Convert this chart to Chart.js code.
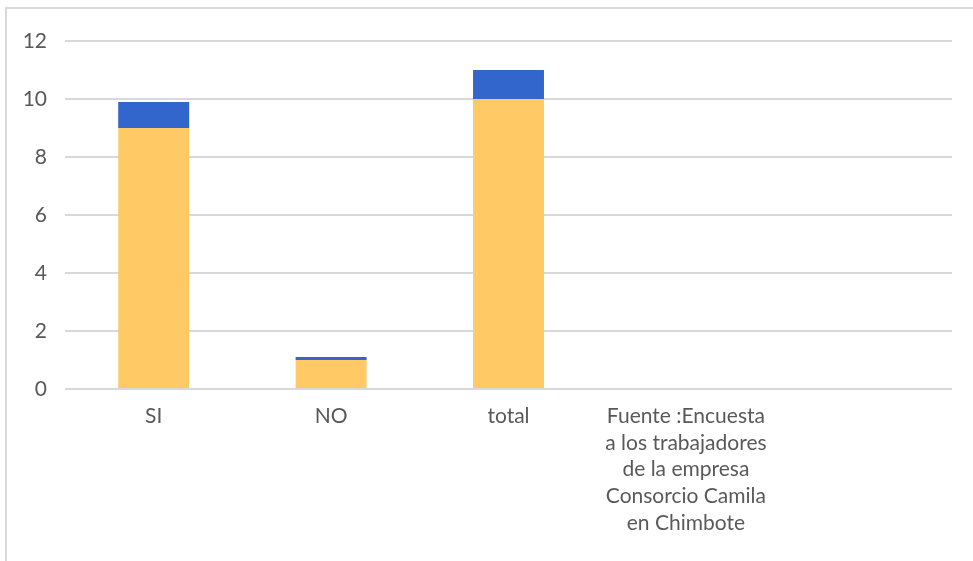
<!DOCTYPE html>
<html>
<head>
<meta charset="utf-8">
<script src="https://cdn.jsdelivr.net/npm/chart.js@4"></script>
<style>
  html, body { margin: 0; padding: 0; background: #ffffff; overflow: hidden; }
  #wrap { position: relative; width: 973px; height: 561px; }
</style>
</head>
<body>
<div id="wrap"><canvas id="chart" width="973" height="561"></canvas></div>
<script>
// Categories along the x axis (the fourth one carries the source note, the fifth is empty)
const categories = [
  'SI',
  'NO',
  'total',
  ['Fuente :Encuesta', 'a los trabajadores', 'de la empresa', 'Consorcio Camila', 'en Chimbote'],
  ''
];
// Lower (yellow) segment of each stacked bar
const seriesBase = [9, 1, 10, null, null];
// Upper (blue) segment of each stacked bar
const seriesTop = [0.9, 0.1, 1, null, null];
// Value axis ticks
const yTicks = [0, 2, 4, 6, 8, 10, 12];

const FONT = 'Lato, "Open Sans", sans-serif';
const GRID = '#d9d9d9';
const TEXT = '#595959';

// Light outer frame of the chart box
const framePlugin = {
  id: 'frame',
  beforeDraw(chart) {
    const ctx = chart.ctx;
    ctx.save();
    ctx.fillStyle = '#ffffff';
    ctx.fillRect(0, 0, chart.width, chart.height);
    ctx.strokeStyle = GRID;
    ctx.lineWidth = 2;
    ctx.strokeRect(6, 8, chart.width + 20, chart.height + 20);
    ctx.restore();
  }
};

new Chart(document.getElementById('chart'), {
  type: 'bar',
  data: {
    labels: categories,
    datasets: [
      {
        label: 'Serie 1',
        data: seriesBase,
        backgroundColor: '#ffca66',
        borderWidth: 0,
        barPercentage: 0.4,
        categoryPercentage: 1
      },
      {
        label: 'Serie 2',
        data: seriesTop,
        backgroundColor: '#3366cc',
        borderWidth: 0,
        barPercentage: 0.4,
        categoryPercentage: 1
      }
    ]
  },
  options: {
    responsive: false,
    animation: false,
    devicePixelRatio: 1,
    layout: { padding: { left: 0, top: 41, right: 21, bottom: 0 } },
    plugins: {
      legend: { display: false },
      tooltip: { enabled: false },
      title: { display: false }
    },
    scales: {
      x: {
        stacked: true,
        grid: { display: false, drawTicks: false },
        border: { display: false },
        ticks: {
          color: TEXT,
          font: { family: FONT, size: 21, lineHeight: 1.27 },
          padding: 14,
          maxRotation: 0,
          autoSkip: false
        },
        afterFit(scale) { scale.height = 561 - 389; }
      },
      y: {
        stacked: true,
        min: 0,
        max: 12,
        afterBuildTicks(scale) { scale.ticks = yTicks.map(v => ({ value: v })); },
        grid: { color: GRID, lineWidth: 2, drawTicks: false },
        border: { display: false },
        ticks: {
          color: TEXT,
          font: { family: FONT, size: 21 },
          padding: 18
        },
        afterFit(scale) { scale.width = 65; }
      }
    }
  },
  plugins: [framePlugin]
});
</script>
</body>
</html>
